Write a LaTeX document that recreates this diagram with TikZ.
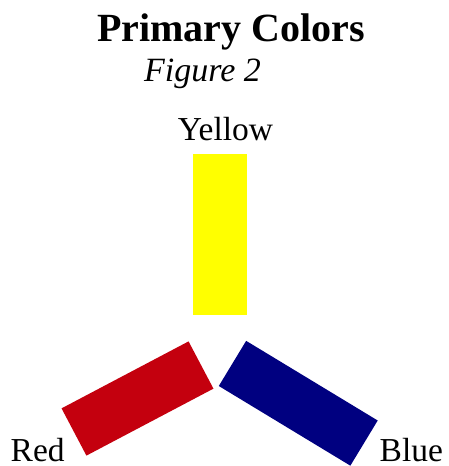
\documentclass[tikz,border=0pt]{standalone}
\usepackage{fontspec}
\setmainfont{Liberation Serif}
\definecolor{pyellow}{RGB}{255,255,0}
\definecolor{pred}{RGB}{196,0,14}
\definecolor{pblue}{RGB}{0,0,128}
\begin{document}
\begin{tikzpicture}[x=1pt,y=-1pt,
  lbl/.style={inner sep=0pt,font=\fontsize{33.5}{38}\selectfont},
  bar/.style={inner sep=0pt,outer sep=0pt,draw=none,rectangle}]
\useasboundingbox (0,0) rectangle (448,466);
\node[inner sep=0pt,anchor=base,font=\fontsize{40}{44}\selectfont\bfseries] (title) at (231,41.7) {Primary Colors};
\node[lbl,anchor=base,font=\fontsize{34}{38}\selectfont\itshape] (fig) at (202.5,81) {Figure 2};
\node[lbl,anchor=base] (ylab) at (225.5,140) {Yellow};
\node[lbl,anchor=base west] (rlab) at (10.5,461.5) {Red};
\node[lbl,anchor=base west] (blab) at (379.5,461) {Blue};
\node[bar,fill=pyellow,minimum width=54pt,minimum height=161pt] (yel) at (220,234.8) {};
\node[bar,fill=pred,minimum width=143.6pt,minimum height=53.4pt,rotate=27.8] (red) at (137.5,398.5) {};
\node[bar,fill=pblue,minimum width=153.8pt,minimum height=52.8pt,rotate=-31.2] (blue) at (298.25,403.25) {};
\end{tikzpicture}
\end{document}
